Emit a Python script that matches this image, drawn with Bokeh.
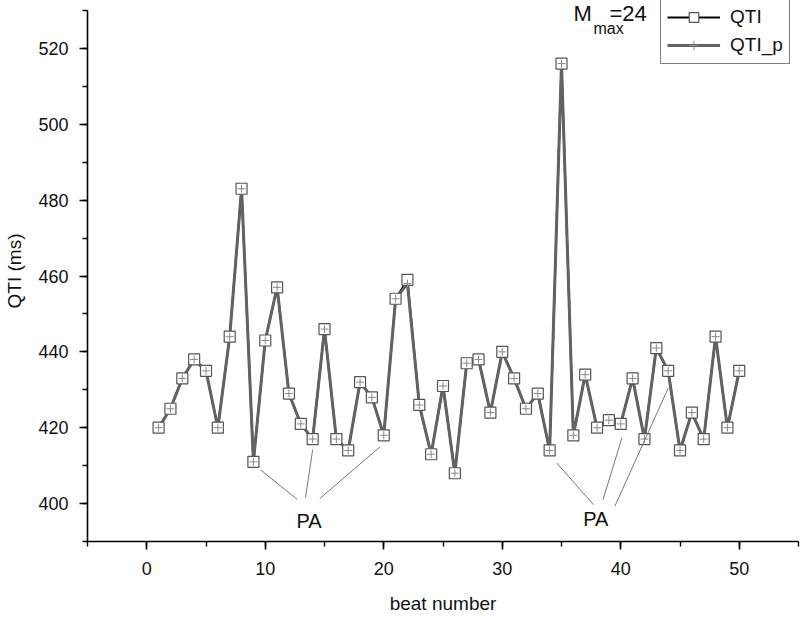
from bokeh.plotting import figure
from bokeh.models import (Range1d, SingleIntervalTicker, Legend, LegendItem,
                          Label, ColumnDataSource)
from bokeh.embed import file_html
from bokeh.resources import INLINE

# ---- data ----
beats = list(range(1, 51))
qti = [420, 425, 433, 438, 435, 420, 444, 483, 411, 443,
       457, 429, 421, 417, 446, 417, 414, 432, 428, 418,
       454, 459, 426, 413, 431, 408, 437, 438, 424, 440,
       433, 425, 429, 414, 516, 418, 434, 420, 422, 421,
       433, 417, 441, 435, 414, 424, 417, 444, 420, 435]
qti_p = [420, 425, 433, 438, 435, 420, 444, 483, 411, 443,
         457, 429, 421, 417, 446, 417, 414, 432, 428, 418,
         454, 458, 426, 413, 431, 408, 437, 438, 424, 440,
         433, 425, 429, 414, 516, 418, 434, 420, 422, 421,
         433, 417, 441, 435, 414, 424, 417, 444, 420, 435]

x_ticks_interval = 10
y_ticks_interval = 20

# PA annotation leader lines (data coords)
pa_x0 = [9.6, 14.0, 19.7, 34.6, 40.1, 44.0]
pa_y0 = [408.9, 414.2, 415.0, 410.7, 417.3, 430.4]
pa_x1 = [12.7, 13.4, 14.6, 37.7, 38.5, 39.5]
pa_y1 = [401.1, 401.6, 401.3, 399.7, 401.0, 399.3]
pa_text_x = [13.7, 37.9]
pa_text_y = [395.5, 396.0]
pa_text = ["PA", "PA"]

FONT = "Liberation Sans"

# frame spans the full height above the x axis so annotations near the top are not clipped;
# the y axis line itself is bounded to 390..530
Y_TOP = 390 + 541 * 140 / 531

p = figure(width=800, height=617, x_range=Range1d(-5, 55),
           y_range=Range1d(390, Y_TOP), output_backend="svg",
           toolbar_location=None, min_border_left=87, min_border_right=2,
           min_border_top=0, min_border_bottom=76)

p.grid.visible = False
p.outline_line_color = None
p.background_fill_color = "white"
p.border_fill_color = "white"

for ax in (p.xaxis[0], p.yaxis[0]):
    ax.axis_line_color = "black"
    ax.axis_line_width = 1.6
    ax.major_tick_line_color = "black"
    ax.minor_tick_line_color = "black"
    ax.major_tick_line_width = 1.6
    ax.minor_tick_line_width = 1.4
    ax.major_tick_in = 0
    ax.major_tick_out = 8
    ax.minor_tick_in = 0
    ax.minor_tick_out = 5
    ax.major_label_text_font = FONT
    ax.major_label_text_font_size = "18px"
    ax.major_label_text_color = "#111111"
    ax.axis_label_text_font = FONT
    ax.axis_label_text_font_size = "19px"
    ax.axis_label_text_font_style = "normal"
    ax.axis_label_text_color = "#111111"

p.yaxis[0].bounds = (390, 530)
p.xaxis[0].ticker = SingleIntervalTicker(interval=x_ticks_interval, num_minor_ticks=2)
p.yaxis[0].ticker = SingleIntervalTicker(interval=y_ticks_interval, num_minor_ticks=2)
p.xaxis[0].axis_label = "beat number"
p.yaxis[0].axis_label = "QTI (ms)"
p.xaxis[0].major_label_standoff = 12
p.yaxis[0].major_label_standoff = 11
p.xaxis[0].axis_label_standoff = 15
p.yaxis[0].axis_label_standoff = 10

src = ColumnDataSource(dict(x=beats, qti=qti, qti_p=qti_p))

l1 = p.line("x", "qti", source=src, line_color="black", line_width=2)
l2 = p.line("x", "qti_p", source=src, line_color="#626262", line_width=3)
m1 = p.scatter("x", "qti", source=src, marker="square", size=11,
               fill_color="white", line_color="#555555", line_width=1.2)
m2 = p.scatter("x", "qti_p", source=src, marker="cross", size=8,
               line_color="#888888", line_width=1)

# PA leader lines
p.segment(x0=pa_x0, y0=pa_y0, x1=pa_x1, y1=pa_y1,
          line_color="#777777", line_width=1)
p.text(x=pa_text_x, y=pa_text_y, text=pa_text, text_align="center",
       text_baseline="middle", text_font_size="20px",
       text_font={"value": FONT}, text_color="#111111")

legend = Legend(items=[LegendItem(label="QTI", renderers=[l1, m1]),
                       LegendItem(label="QTI_p", renderers=[l2, m2])],
                location=(573, 477), orientation="vertical",
                label_text_font=FONT, label_text_font_size="19px",
                label_text_color="#111111",
                glyph_width=53, glyph_height=24, label_standoff=10,
                padding=6, spacing=4, margin=0,
                border_line_color="black", border_line_width=1.5,
                background_fill_color="white", background_fill_alpha=1)
p.add_layout(legend, "center")

# M_max = 24
p.add_layout(Label(x=486, y=516, x_units="screen", y_units="screen",
                   text="M", text_font=FONT, text_font_size="22px",
                   text_color="#111111"))
p.add_layout(Label(x=506, y=505, x_units="screen", y_units="screen",
                   text="max", text_font=FONT, text_font_size="16px",
                   text_color="#111111"))
p.add_layout(Label(x=522, y=516, x_units="screen", y_units="screen",
                   text="=24", text_font=FONT, text_font_size="22px",
                   text_color="#111111"))

open("out.html", "w").write(file_html(p, INLINE))
